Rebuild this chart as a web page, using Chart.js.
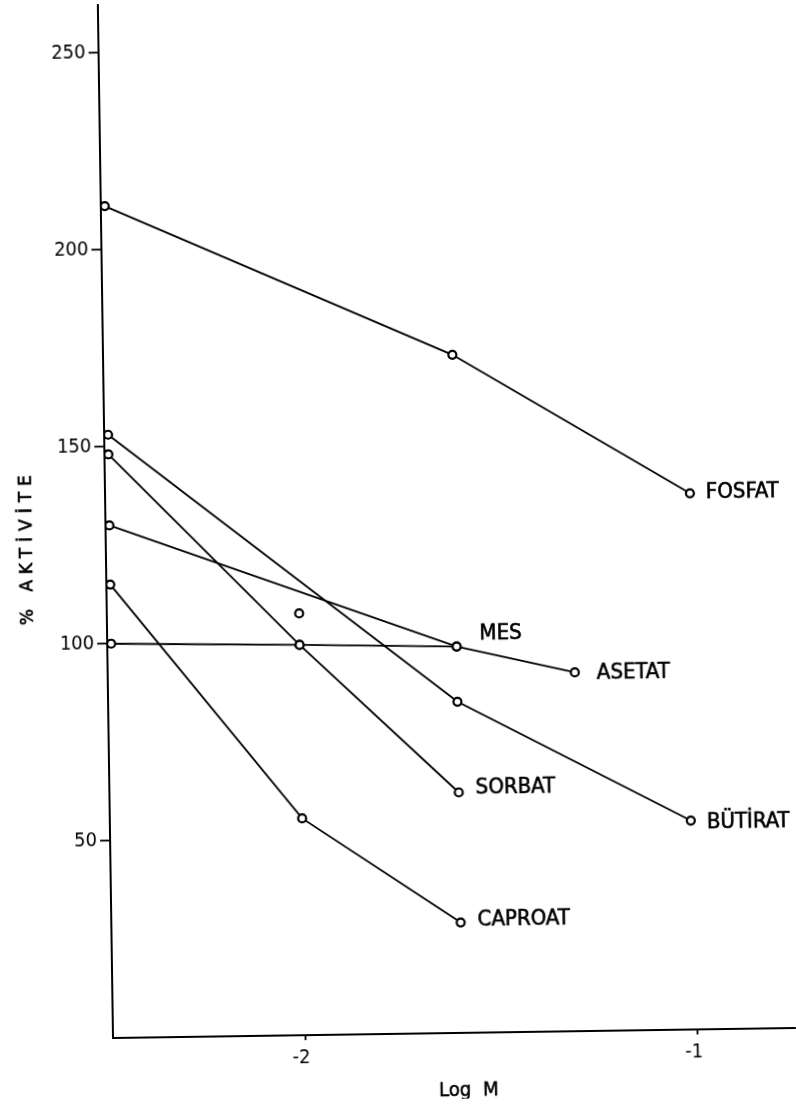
<!DOCTYPE html>
<html>
<head>
<meta charset="utf-8">
<title>% Aktivite - Log M</title>
<script src="https://cdn.jsdelivr.net/npm/chart.js@4.4.0/dist/chart.umd.min.js"></script>
<style>
  html, body { margin: 0; padding: 0; background: #fff; }
  #wrap { position: relative; width: 796px; height: 1104px; overflow: hidden; background: #fff; }
  /* the plate sits slightly tilted on the page */
  #c { position: absolute; left: 0; top: 0; transform: rotate(-0.84deg); transform-origin: 113px 1038px; }
</style>
</head>
<body>
<div id="wrap"><canvas id="c" width="796" height="1104"></canvas></div>
<script>
// Log M concentrations and % activity per anion
const fosfatX   = [-2.48, -1.6, -1.0];
const fosfatY   = [211, 172, 136];
const butiratX  = [-2.48, -1.6, -1.01];
const butiratY  = [153, 84, 53];
const sorbatX   = [-2.48, -2.0, -1.6];
const sorbatY   = [148, 99, 61];
const asetatX   = [-2.48, -2.0, -1.6, -1.3];
const asetatY   = [130, 107, 98, 91];
const asetatOnLine = [true, false, true, true];   // the -2.0 reading sits off the drawn line
const mesX      = [-2.48, -2.0, -1.6];
const mesY      = [100, 99, 98];
const caproatX  = [-2.48, -2.0, -1.6];
const caproatY  = [115, 55, 28];

const seriesNames = ['FOSFAT', 'BÜTİRAT', 'SORBAT', 'ASETAT', 'MES', 'CAPROAT'];
const xTicks = [-2, -1];
const yTicks = [50, 100, 150, 200, 250];
const xTitle = 'Log M';
const yTitle = '% AKTİVİTE';

const FONT = '"DejaVu Sans Condensed", "DejaVu Sans", sans-serif';

const series = [
  { name: seriesNames[0], xs: fosfatX,  ys: fosfatY,  on: null,         lbl: { dx: 16, dy: -1 } },
  { name: seriesNames[1], xs: butiratX, ys: butiratY, on: null,         lbl: { dx: 16, dy: 2 } },
  { name: seriesNames[2], xs: sorbatX,  ys: sorbatY,  on: null,         lbl: { dx: 17, dy: -4 } },
  { name: seriesNames[3], xs: asetatX,  ys: asetatY,  on: asetatOnLine, lbl: { dx: 22, dy: 1 } },
  { name: seriesNames[4], xs: mesX,     ys: mesY,     on: null,         lbl: { dx: 23, dy: -12 } },
  { name: seriesNames[5], xs: caproatX, ys: caproatY, on: null,         lbl: { dx: 17, dy: -2 } }
];

const toPoints = s => s.xs.map((x, i) => ({ x: x, y: s.ys[i] }));

const datasets = [];
const markerIndex = [];
series.forEach(s => {
  const pts = toPoints(s);
  // connecting line
  datasets.push({
    label: s.name + ' line',
    data: s.on ? pts.filter((p, i) => s.on[i]) : pts,
    showLine: true,
    borderColor: '#000',
    borderWidth: 1.8,
    pointRadius: 0,
    tension: 0,
    order: 2
  });
  // open circle markers
  markerIndex.push(datasets.length);
  datasets.push({
    label: s.name,
    data: pts,
    showLine: false,
    pointRadius: 4,
    pointBorderWidth: 2.2,
    pointBorderColor: '#000',
    pointBackgroundColor: '#fff',
    order: 1
  });
});

// heavier lettering: fill plus a thin outline
function letter(ctx, text, x, y) {
  ctx.fillText(text, x, y);
  ctx.strokeText(text, x, y);
}

const textPlugin = {
  id: 'plateText',
  afterDatasetsDraw(chart) {
    const ctx = chart.ctx;
    const area = chart.chartArea;
    ctx.save();
    ctx.fillStyle = '#000';
    ctx.strokeStyle = '#000';
    ctx.lineWidth = 0.6;
    ctx.textBaseline = 'middle';
    ctx.textAlign = 'left';
    ctx.font = '22px ' + FONT;
    series.forEach((s, i) => {
      const meta = chart.getDatasetMeta(markerIndex[i]);
      const p = meta.data[meta.data.length - 1];
      letter(ctx, s.name, p.x + s.lbl.dx, p.y + s.lbl.dy);
    });

    // x-axis title
    ctx.textAlign = 'center';
    ctx.font = '20px ' + FONT;
    if ('wordSpacing' in ctx) ctx.wordSpacing = '6px';
    letter(ctx, xTitle, area.left + 355, area.bottom + 58);
    if ('wordSpacing' in ctx) ctx.wordSpacing = '0px';

    // y-axis title
    ctx.translate(35, 546);
    ctx.rotate(-Math.PI / 2);
    ctx.font = '17px "DejaVu Sans", sans-serif';
    if ('letterSpacing' in ctx) ctx.letterSpacing = '6px';
    letter(ctx, yTitle, 0, 0);
    ctx.restore();
  }
};

new Chart(document.getElementById('c'), {
  type: 'scatter',
  data: { datasets: datasets },
  options: {
    responsive: false,
    animation: false,
    devicePixelRatio: 1,
    layout: { autoPadding: false, padding: { top: 5, right: 0, bottom: 0, left: 0 } },
    plugins: { legend: { display: false }, tooltip: { enabled: false } },
    scales: {
      x: {
        type: 'linear',
        min: -2.49,
        max: -0.75,
        afterBuildTicks: scale => { scale.ticks = xTicks.map(v => ({ value: v })); },
        ticks: {
          color: '#000',
          padding: 6,
          labelOffset: -4,
          font: { family: FONT, size: 20 },
          callback: v => String(v)
        },
        grid: { drawOnChartArea: false, tickLength: 5, tickWidth: 1.8, tickColor: '#000' },
        border: { color: '#000', width: 2 },
        afterFit: scale => { scale.height = 66; scale.paddingLeft = 0; scale.paddingRight = 0; }
      },
      y: {
        type: 'linear',
        min: 0,
        max: 262,
        afterBuildTicks: scale => { scale.ticks = yTicks.map(v => ({ value: v })); },
        ticks: {
          color: '#000',
          padding: 3,
          font: { family: FONT, size: 20 },
          callback: v => String(v)
        },
        grid: { drawOnChartArea: false, tickLength: 10, tickWidth: 1.8, tickColor: '#000' },
        border: { color: '#000', width: 2 },
        afterFit: scale => { scale.width = 113; scale.paddingTop = 0; scale.paddingBottom = 0; }
      }
    }
  },
  plugins: [textPlugin]
});
</script>
</body>
</html>
